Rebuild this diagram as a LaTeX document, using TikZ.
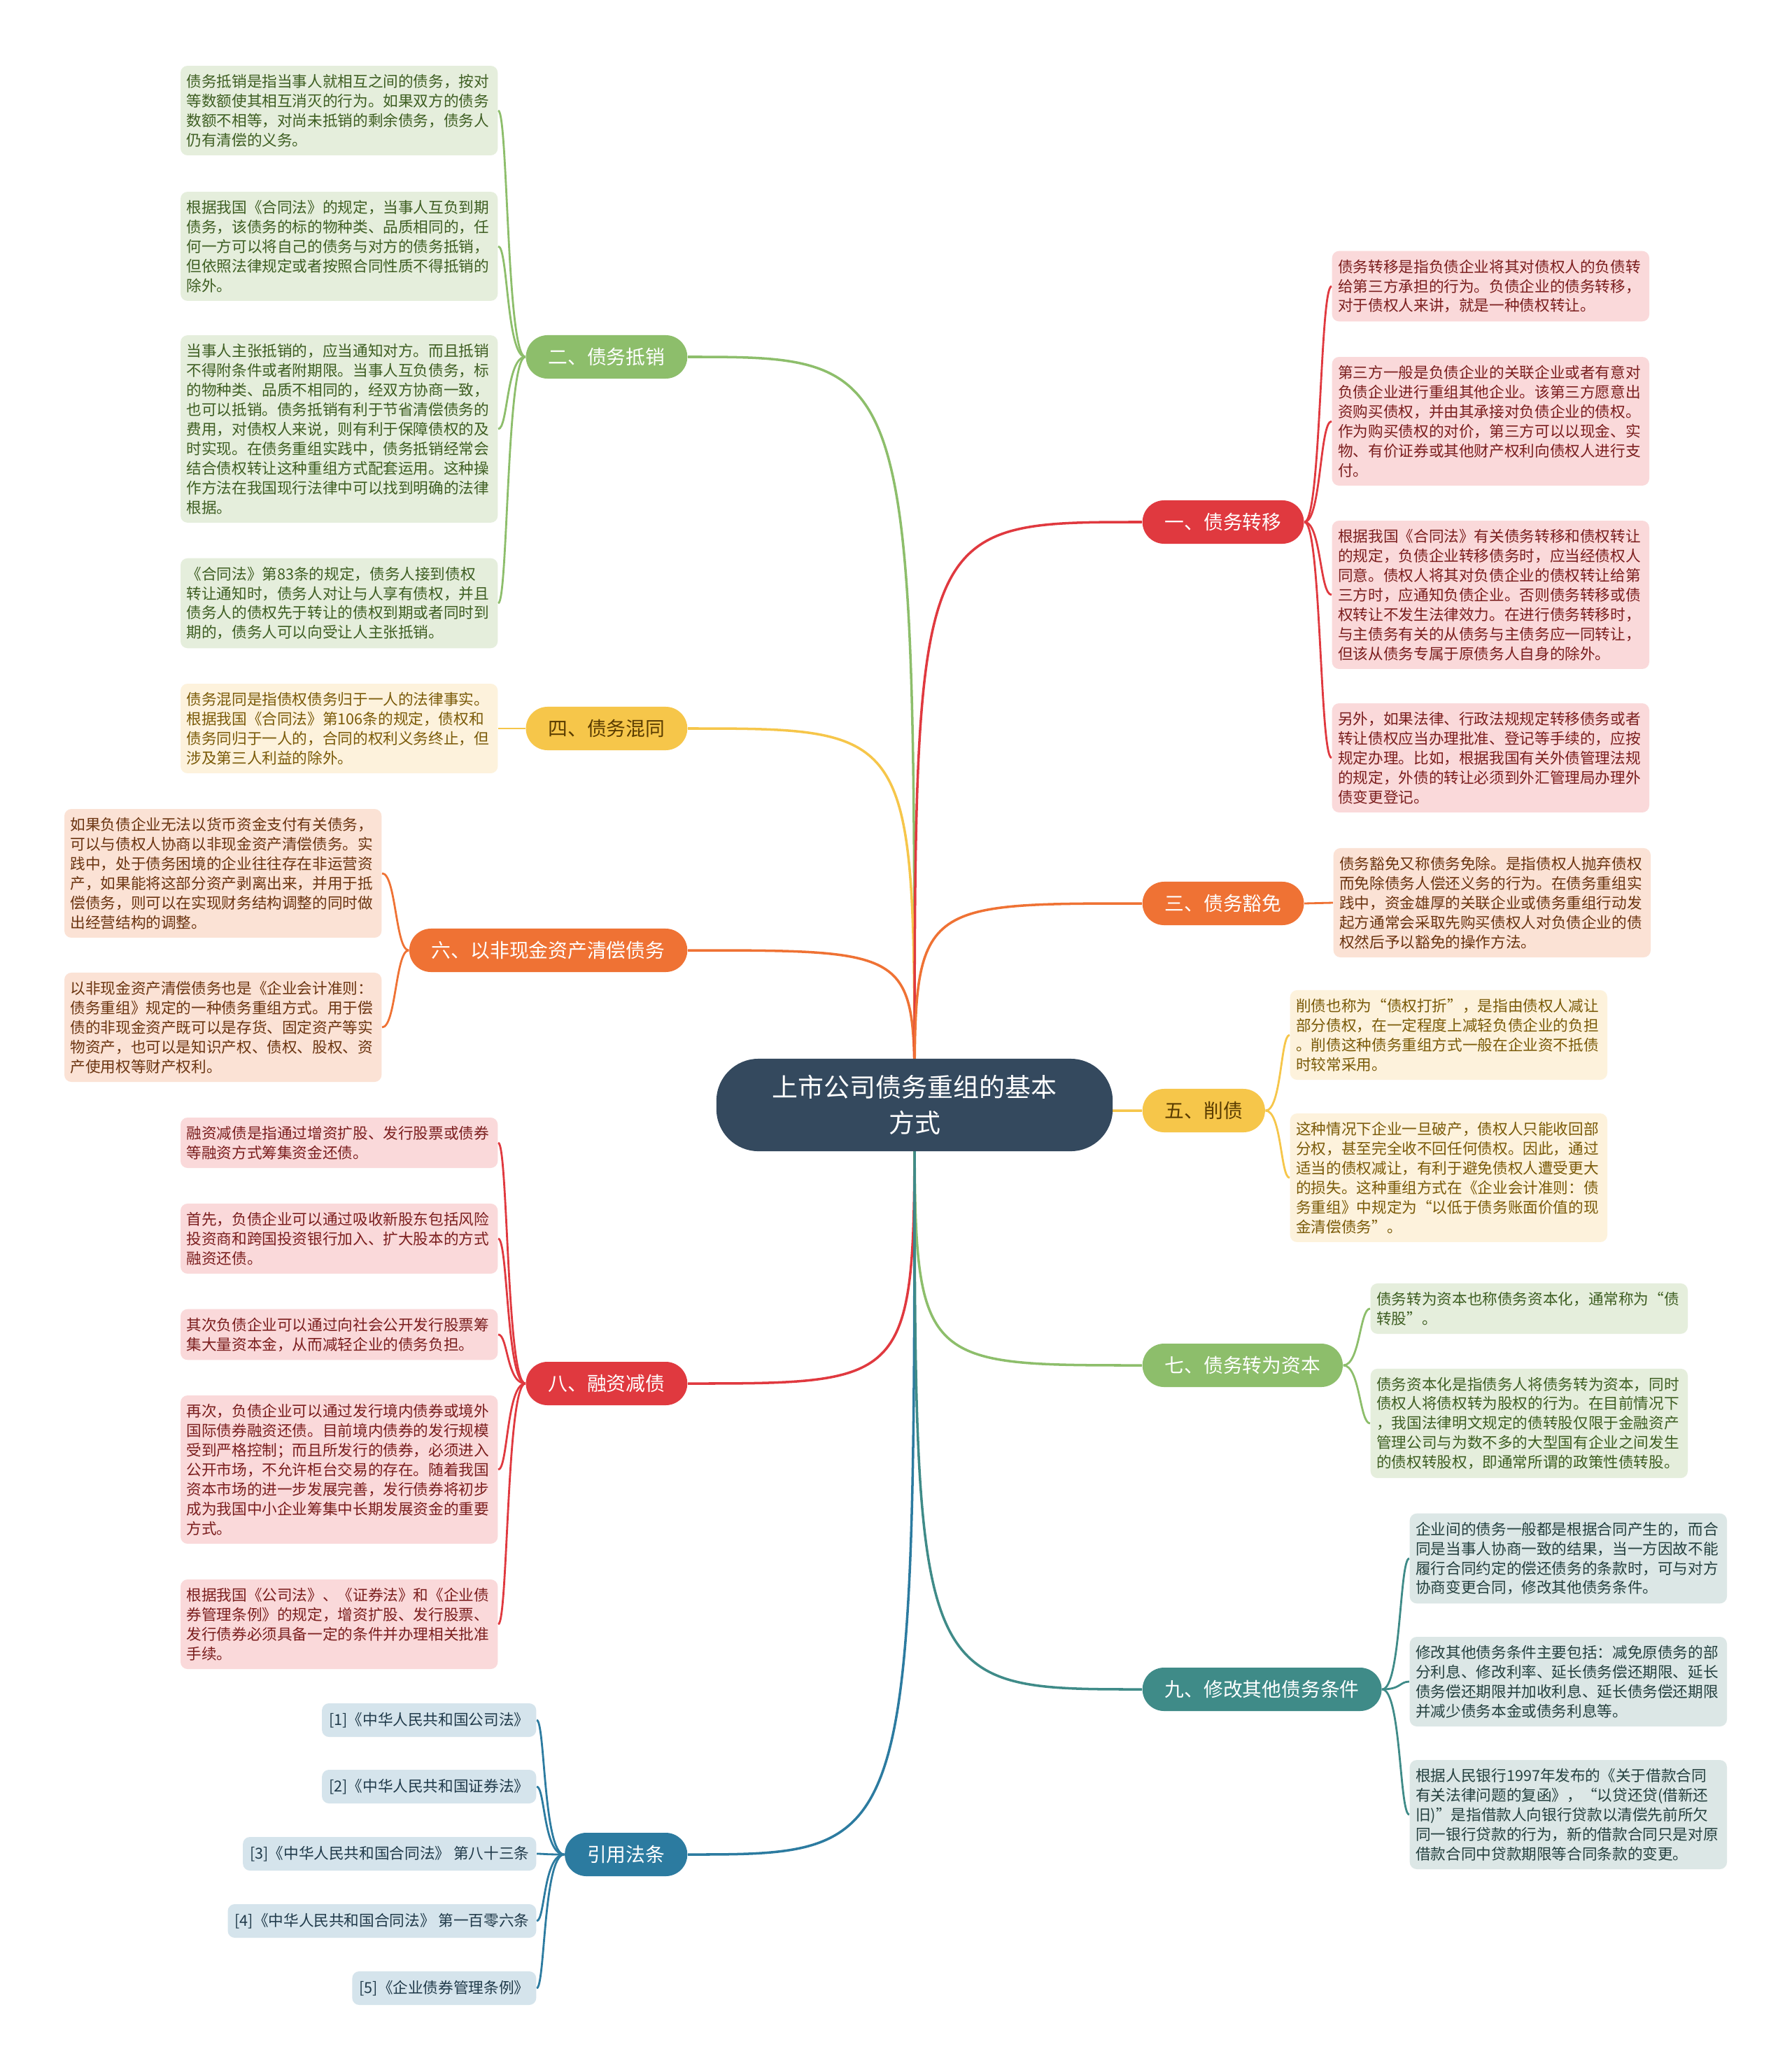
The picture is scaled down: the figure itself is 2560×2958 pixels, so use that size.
\documentclass[tikz,border=0pt]{standalone}
\usepackage{fontspec}
\setmainfont{Noto Sans CJK SC}
\usepackage{xcolor}
\definecolor{rootbg}{HTML}{34495E}
\definecolor{grnbd}{HTML}{8DBE6B}
\definecolor{grnbg}{HTML}{E5EEDC}
\definecolor{grntx}{HTML}{3E5E22}
\definecolor{ylwbd}{HTML}{F6C64A}
\definecolor{ylwbg}{HTML}{FDF2DC}
\definecolor{ylwtx}{HTML}{7A5A08}
\definecolor{ylwhd}{HTML}{5A3C00}
\definecolor{orgbd}{HTML}{EF7234}
\definecolor{orgbg}{HTML}{FBE2D5}
\definecolor{orgtx}{HTML}{6B3410}
\definecolor{redbd}{HTML}{E0393F}
\definecolor{redbg}{HTML}{FAD9DA}
\definecolor{redtx}{HTML}{7B1E1E}
\definecolor{tealbd}{HTML}{3F8B88}
\definecolor{tealbg}{HTML}{DCE7E6}
\definecolor{tealtx}{HTML}{24403F}
\definecolor{bluebd}{HTML}{2C7BA0}
\definecolor{bluebg}{HTML}{D5E4EC}
\definecolor{bluetx}{HTML}{203A4A}
\usetikzlibrary{backgrounds}

\begin{document}
\begin{tikzpicture}[
  x=0.01cm, y=-0.01cm,
  root/.style={fill=rootbg, text=white, rounded corners=0.6cm, minimum width=5.66cm,
    minimum height=1.32cm, align=center, font=\fontsize{10.5}{14.5}\selectfont},
  branch/.style={rounded corners=0.31cm, minimum height=0.62cm, inner xsep=0.32cm,
    inner ysep=0pt, text=white, font=\fontsize{7.9}{9}\selectfont},
  leaf/.style={rounded corners=0.1cm, text width=4.36cm, align=left, inner xsep=0.085cm,
    inner ysep=0.12cm, font=\fontsize{6.15}{7.95}\selectfont},
  lawref/.style={rounded corners=0.1cm, minimum height=0.48cm, inner xsep=0.1cm,
    inner ysep=0pt, fill=bluebg, text=bluetx, font=\fontsize{6.15}{7.95}\selectfont},
  green/.style={fill=grnbg, text=grntx},
  yellow/.style={fill=ylwbg, text=ylwtx},
  orange/.style={fill=orgbg, text=orgtx},
  red/.style={fill=redbg, text=redtx},
  teal/.style={fill=tealbg, text=tealtx},
  trunk/.style={line width=1pt},
  twig/.style={line width=0.8pt},
]
\useasboundingbox (0,0) rectangle (2560,2958);

% centre
\node[root] (root) at (1307,1579) {上市公司债务重组的基本\\方式};

% left branches
\node[branch, fill=grnbd, anchor=east] (br2) at (983,510) {二、债务抵销};
\node[branch, fill=ylwbd, text=ylwhd, anchor=east] (br4) at (983,1041) {四、债务混同};
\node[branch, fill=orgbd, anchor=east] (br6) at (983,1358) {六、以非现金资产清偿债务};
\node[branch, fill=redbd, anchor=east] (br8) at (983,1977) {八、融资减债};
\node[branch, fill=bluebd, anchor=east] (brref) at (983,2650) {引用法条};

% right branches
\node[branch, fill=redbd, anchor=west] (br1) at (1632,746) {一、债务转移};
\node[branch, fill=orgbd, anchor=west] (br3) at (1632,1291) {三、债务豁免};
\node[branch, fill=ylwbd, text=ylwhd, anchor=west] (br5) at (1632,1587) {五、削债};
\node[branch, fill=grnbd, anchor=west] (br7) at (1632,1951) {七、债务转为资本};
\node[branch, fill=tealbd, anchor=west] (br9) at (1632,2414) {九、修改其他债务条件};

% 二
\node[leaf, green, anchor=east] (lf2a) at (712,158) {债务抵销是指当事人就相互之间的债务，按对\\等数额使其相互消灭的行为。如果双方的债务\\数额不相等，对尚未抵销的剩余债务，债务人\\仍有清偿的义务。};
\node[leaf, green, anchor=east] (lf2b) at (712,352) {根据我国《合同法》的规定，当事人互负到期\\债务，该债务的标的物种类、品质相同的，任\\何一方可以将自己的债务与对方的债务抵销，\\但依照法律规定或者按照合同性质不得抵销的\\除外。};
\node[leaf, green, anchor=east] (lf2c) at (712,613) {当事人主张抵销的，应当通知对方。而且抵销\\不得附条件或者附期限。当事人互负债务，标\\的物种类、品质不相同的，经双方协商一致，\\也可以抵销。债务抵销有利于节省清偿债务的\\费用，对债权人来说，则有利于保障债权的及\\时实现。在债务重组实践中，债务抵销经常会\\结合债权转让这种重组方式配套运用。这种操\\作方法在我国现行法律中可以找到明确的法律\\根据。};
\node[leaf, green, anchor=east] (lf2d) at (712,862) {《合同法》第83条的规定，债务人接到债权\\转让通知时，债务人对让与人享有债权，并且\\债务人的债权先于转让的债权到期或者同时到\\期的，债务人可以向受让人主张抵销。};

% 四
\node[leaf, yellow, anchor=east] (lf4a) at (712,1041) {债务混同是指债权债务归于一人的法律事实。\\根据我国《合同法》第106条的规定，债权和\\债务同归于一人的，合同的权利义务终止，但\\涉及第三人利益的除外。};

% 六
\node[leaf, orange, anchor=east] (lf6a) at (546,1248) {如果负债企业无法以货币资金支付有关债务，\\可以与债权人协商以非现金资产清偿债务。实\\践中，处于债务困境的企业往往存在非运营资\\产，如果能将这部分资产剥离出来，并用于抵\\偿债务，则可以在实现财务结构调整的同时做\\出经营结构的调整。};
\node[leaf, orange, anchor=east] (lf6b) at (546,1468) {以非现金资产清偿债务也是《企业会计准则：\\债务重组》规定的一种债务重组方式。用于偿\\债的非现金资产既可以是存货、固定资产等实\\物资产，也可以是知识产权、债权、股权、资\\产使用权等财产权利。};

% 八
\node[leaf, red, anchor=east] (lf8a) at (712,1633) {融资减债是指通过增资扩股、发行股票或债券\\等融资方式筹集资金还债。};
\node[leaf, red, anchor=east] (lf8b) at (712,1770) {首先，负债企业可以通过吸收新股东包括风险\\投资商和跨国投资银行加入、扩大股本的方式\\融资还债。};
\node[leaf, red, anchor=east] (lf8c) at (712,1907) {其次负债企业可以通过向社会公开发行股票筹\\集大量资本金，从而减轻企业的债务负担。};
\node[leaf, red, anchor=east] (lf8d) at (712,2100) {再次，负债企业可以通过发行境内债券或境外\\国际债券融资还债。目前境内债券的发行规模\\受到严格控制；而且所发行的债券，必须进入\\公开市场，不允许柜台交易的存在。随着我国\\资本市场的进一步发展完善，发行债券将初步\\成为我国中小企业筹集中长期发展资金的重要\\方式。};
\node[leaf, red, anchor=east] (lf8e) at (712,2321) {根据我国《公司法》、《证券法》和《企业债\\券管理条例》的规定，增资扩股、发行股票、\\发行债券必须具备一定的条件并办理相关批准\\手续。};

% 引用法条
\node[lawref, anchor=east] (ref1) at (767,2458) {[1]《中华人民共和国公司法》};
\node[lawref, anchor=east] (ref2) at (767,2553) {[2]《中华人民共和国证券法》};
\node[lawref, anchor=east] (ref3) at (767,2649) {[3]《中华人民共和国合同法》 第八十三条};
\node[lawref, anchor=east] (ref4) at (767,2745) {[4]《中华人民共和国合同法》 第一百零六条};
\node[lawref, anchor=east] (ref5) at (767,2841) {[5]《企业债券管理条例》};

% 一
\node[leaf, red, anchor=west] (lf1a) at (1903,409) {债务转移是指负债企业将其对债权人的负债转\\给第三方承担的行为。负债企业的债务转移，\\对于债权人来讲，就是一种债权转让。};
\node[leaf, red, anchor=west] (lf1b) at (1903,602) {第三方一般是负债企业的关联企业或者有意对\\负债企业进行重组其他企业。该第三方愿意出\\资购买债权，并由其承接对负债企业的债权。\\作为购买债权的对价，第三方可以以现金、实\\物、有价证券或其他财产权利向债权人进行支\\付。};
\node[leaf, red, anchor=west] (lf1c) at (1903,850) {根据我国《合同法》有关债务转移和债权转让\\的规定，负债企业转移债务时，应当经债权人\\同意。债权人将其对负债企业的债权转让给第\\三方时，应通知负债企业。否则债务转移或债\\权转让不发生法律效力。在进行债务转移时，\\与主债务有关的从债务与主债务应一同转让，\\但该从债务专属于原债务人自身的除外。};
\node[leaf, red, anchor=west] (lf1d) at (1903,1083) {另外，如果法律、行政法规规定转移债务或者\\转让债权应当办理批准、登记等手续的，应按\\规定办理。比如，根据我国有关外债管理法规\\的规定，外债的转让必须到外汇管理局办理外\\债变更登记。};

% 三
\node[leaf, orange, anchor=west] (lf3a) at (1905,1290) {债务豁免又称债务免除。是指债权人抛弃债权\\而免除债务人偿还义务的行为。在债务重组实\\践中，资金雄厚的关联企业或债务重组行动发\\起方通常会采取先购买债权人对负债企业的债\\权然后予以豁免的操作方法。};

% 五
\node[leaf, yellow, anchor=west] (lf5a) at (1843,1479) {削债也称为“债权打折”，是指由债权人减让\\部分债权，在一定程度上减轻负债企业的负担\\。削债这种债务重组方式一般在企业资不抵债\\时较常采用。};
\node[leaf, yellow, anchor=west] (lf5b) at (1843,1683) {这种情况下企业一旦破产，债权人只能收回部\\分权，甚至完全收不回任何债权。因此，通过\\适当的债权减让，有利于避免债权人遭受更大\\的损失。这种重组方式在《企业会计准则：债\\务重组》中规定为“以低于债务账面价值的现\\金清偿债务”。};

% 七
\node[leaf, green, anchor=west] (lf7a) at (1958,1870) {债务转为资本也称债务资本化，通常称为“债\\转股”。};
\node[leaf, green, anchor=west] (lf7b) at (1958,2034) {债务资本化是指债务人将债务转为资本，同时\\债权人将债权转为股权的行为。在目前情况下\\，我国法律明文规定的债转股仅限于金融资产\\管理公司与为数不多的大型国有企业之间发生\\的债权转股权，即通常所谓的政策性债转股。};

% 九
\node[leaf, teal, anchor=west] (lf9a) at (2014,2227) {企业间的债务一般都是根据合同产生的，而合\\同是当事人协商一致的结果，当一方因故不能\\履行合同约定的偿还债务的条款时，可与对方\\协商变更合同，修改其他债务条件。};
\node[leaf, teal, anchor=west] (lf9b) at (2014,2403) {修改其他债务条件主要包括：减免原债务的部\\分利息、修改利率、延长债务偿还期限、延长\\债务偿还期限并加收利息、延长债务偿还期限\\并减少债务本金或债务利息等。};
\node[leaf, teal, anchor=west] (lf9c) at (2014,2593) {根据人民银行1997年发布的《关于借款合同\\有关法律问题的复函》，“以贷还贷(借新还\\旧)”是指借款人向银行贷款以清偿先前所欠\\同一银行贷款的行为，新的借款合同只是对原\\借款合同中贷款期限等合同条款的变更。};

\begin{scope}[on background layer]
\fill[white] (0,0) rectangle (2560,2958);

% trunk curves out of the centre
\draw[trunk, grnbd] (root.center) .. controls (root.center |- br2.east) .. (br2.east);
\draw[trunk, ylwbd] (root.center) .. controls (root.center |- br4.east) .. (br4.east);
\draw[trunk, orgbd] (root.center) .. controls (root.center |- br6.east) .. (br6.east);
\draw[trunk, redbd] (root.center) .. controls (root.center |- br8.east) .. (br8.east);
\draw[trunk, bluebd] (root.center) .. controls (root.center |- brref.east) .. (brref.east);
\draw[trunk, redbd] (root.center) .. controls (root.center |- br1.west) .. (br1.west);
\draw[trunk, orgbd] (root.center) .. controls (root.center |- br3.west) .. (br3.west);
\draw[trunk, ylwbd] (root.center) .. controls (root.center |- br5.west) .. (br5.west);
\draw[trunk, grnbd] (root.center) .. controls (root.center |- br7.west) .. (br7.west);
\draw[trunk, tealbd] (root.center) .. controls (root.center |- br9.west) .. (br9.west);

% twigs to the leaves
\foreach \n in {a,b,c,d}
  \draw[twig, grnbd] (br2.west) .. controls +(-27,0) and +(14,0) .. (lf2\n.east);
\draw[twig, ylwbd] (br4.west) -- (lf4a.east);
\foreach \n in {a,b}
  \draw[twig, orgbd] (br6.west) .. controls +(-19,0) and +(20,0) .. (lf6\n.east);
\foreach \n in {a,b,c,d,e}
  \draw[twig, redbd] (br8.west) .. controls +(-27,0) and +(14,0) .. (lf8\n.east);
\foreach \n in {1,...,5}
  \draw[twig, bluebd] (brref.west) .. controls +(-30,0) and +(12,0) .. (ref\n.east);
\foreach \n in {a,b,c,d}
  \draw[twig, redbd] (br1.east) .. controls +(24,0) and +(-17,0) .. (lf1\n.west);
\draw[twig, orgbd] (br3.east) -- (lf3a.west);
\foreach \n in {a,b}
  \draw[twig, ylwbd] (br5.east) .. controls +(23,0) and +(-13,0) .. (lf5\n.west);
\foreach \n in {a,b}
  \draw[twig, grnbd] (br7.east) .. controls +(24,0) and +(-15,0) .. (lf7\n.west);
\foreach \n in {a,b,c}
  \draw[twig, tealbd] (br9.east) .. controls +(27,0) and +(-14,0) .. (lf9\n.west);
\end{scope}
\end{tikzpicture}
\end{document}
